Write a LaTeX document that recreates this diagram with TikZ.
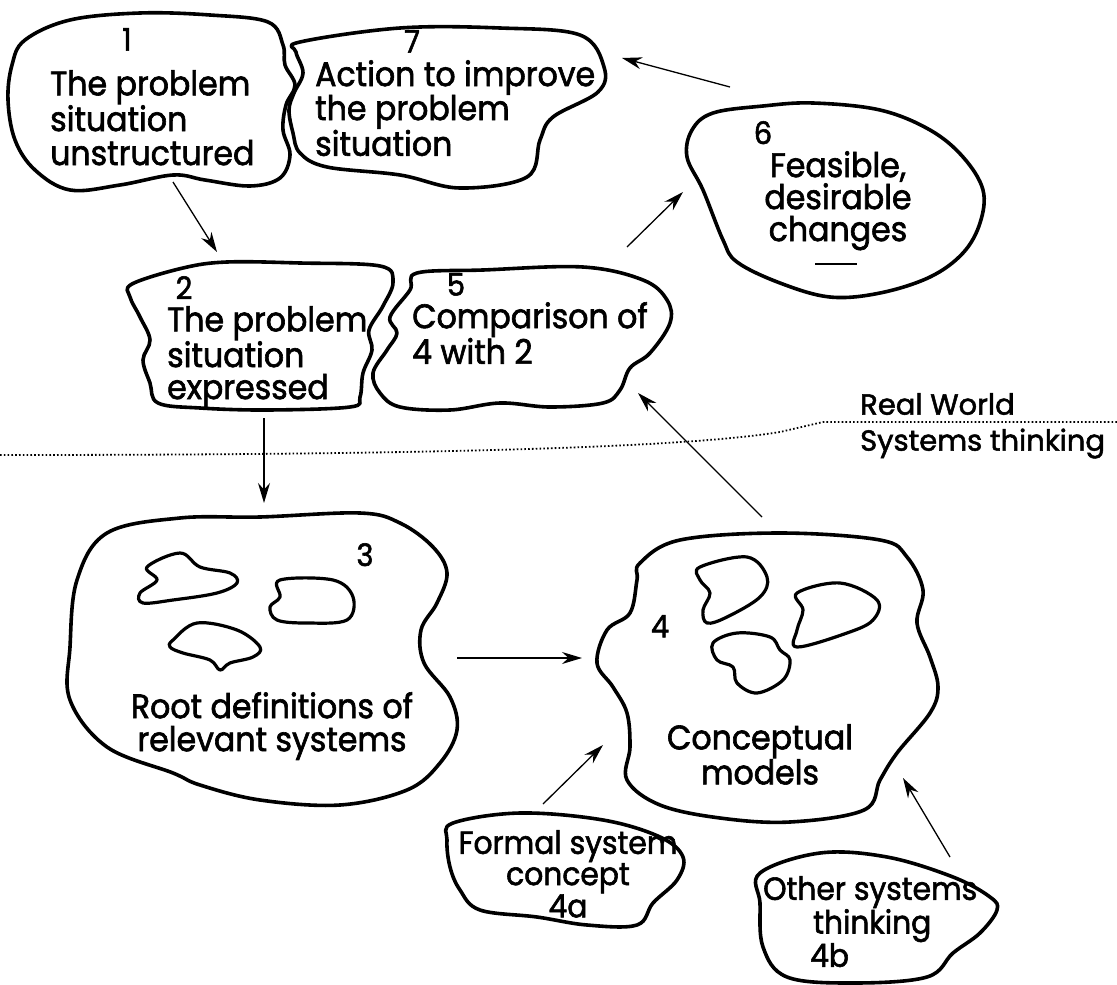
\documentclass[tikz,border=0pt]{standalone}
\usepackage{fontspec}
\setmainfont{Poppins}[FakeStretch=0.93, FakeBold=1.8]
\newfontfamily\rwfont{Poppins}[FakeBold=1.8]
\usetikzlibrary{arrows.meta}
\tikzset{
  blob/.style={draw=black, line width=3.6pt, line join=round},
  inner/.style={draw=black, line width=3.2pt, line join=round},
  arr/.style={draw=black, line width=1.3pt, -{Stealth[length=20pt,width=12pt]}},
  lbl/.style={inner sep=0pt, font=\fontsize{34}{34}\selectfont},
  num/.style={inner sep=0pt, font=\fontsize{31}{31}\selectfont},
}
\begin{document}
\begin{tikzpicture}[x=1pt,y=-1pt]
\useasboundingbox (0,0) rectangle (1117,985);
\fill[white] (0,0) rectangle (1117,985);
% blob 1
\draw[blob] plot[smooth cycle, tension=0.6] coordinates {(25,40) (70,20) (140,13) (210,15) (268,22) (283,45) (285,65) (295,85) (286,105) (283,130) (290,155) (280,178) (250,186) (205,180) (173,175) (120,185) (70,190) (35,170) (15,140) (8,100) (12,65)};
% blob 7
\draw[blob] plot[smooth cycle, tension=0.6] coordinates {(300,42) (400,28) (500,28) (580,35) (604,67) (598,92) (553,117) (540,140) (527,177) (460,188) (400,175) (327,167) (300,153) (293,133) (289,110) (294,93) (303,73) (296,52)};
% blob 2
\draw[blob] plot[smooth cycle, tension=0.6] coordinates {(132,284) (183,268) (227,262) (300,263) (380,266) (393,282) (383,306) (369,330) (372,350) (363,373) (360,397) (350,407) (267,410) (200,408) (158,403) (150,383) (143,360) (150,340) (140,317) (130,297)};
% blob 5
\draw[blob] plot[smooth cycle, tension=0.6] coordinates {(417,273) (483,270) (583,267) (643,280) (667,300) (670,323) (650,353) (630,368) (620,390) (603,403) (550,407) (500,403) (450,410) (400,407) (380,393) (373,373) (387,350) (397,333) (390,317) (410,290)};
% blob 6
\draw[blob] plot[smooth cycle, tension=0.6] coordinates {(713,113) (763,106) (813,103) (880,110) (930,130) (963,157) (983,190) (980,223) (963,253) (930,277) (880,293) (830,297) (780,283) (737,262) (723,240) (703,190) (687,157) (692,130)};
% blob 3
\draw[blob] plot[smooth cycle, tension=0.6] coordinates {(107,533) (180,518) (260,517) (360,513) (400,523) (433,547) (447,573) (437,603) (421,630) (424,663) (450,697) (457,730) (440,763) (407,790) (340,805) (260,800) (200,785) (173,773) (107,747) (70,700) (70,647) (77,580)};
% inner blobs 3
\draw[inner] plot[smooth cycle, tension=0.6] coordinates {(147,567) (180,553) (200,567) (230,573) (237,583) (217,593) (173,600) (143,603) (140,593) (157,580)};
\draw[inner] plot[smooth cycle, tension=0.6] coordinates {(280,580) (333,580) (353,597) (347,620) (307,623) (277,620) (270,607) (280,597)};
\draw[inner] plot[smooth cycle, tension=0.6] coordinates {(173,640) (197,623) (237,630) (260,647) (253,657) (230,663) (220,670) (210,660) (183,653) (170,647)};
% blob 4
\draw[blob] plot[smooth cycle, tension=0.6] coordinates {(640,563) (680,540) (780,533) (880,540) (907,557) (923,590) (917,623) (930,657) (938,687) (930,713) (897,753) (880,780) (864,810) (790,822) (720,818) (660,805) (627,780) (630,747) (627,713) (613,687) (597,663) (607,630) (630,613) (637,580)};
% inner blobs 4
\draw[inner] plot[smooth cycle, tension=0.6] coordinates {(700,567) (747,557) (767,577) (760,597) (727,617) (707,623) (703,610) (710,593) (700,580)};
\draw[inner] plot[smooth cycle, tension=0.6] coordinates {(797,593) (840,583) (877,600) (873,620) (847,633) (797,647) (797,630) (803,610)};
\draw[inner] plot[smooth cycle, tension=0.6] coordinates {(713,643) (737,633) (770,637) (780,650) (790,660) (783,680) (757,693) (737,683) (733,667) (717,660)};
% blob 4a
\draw[blob] plot[smooth cycle, tension=0.6] coordinates {(453,823) (520,813) (603,820) (660,837) (683,857) (677,880) (653,903) (637,925) (587,925) (537,917) (480,910) (460,890) (450,867) (447,840)};
% blob 4b
\draw[blob] plot[smooth cycle, tension=0.6] coordinates {(760,873) (820,853) (887,857) (953,877) (990,897) (997,910) (980,933) (953,953) (927,977) (853,983) (787,977) (763,947) (760,903)};
% texts
\node[num] (n1) at (127,28) [anchor=north] {1};
\node[lbl, align=left, anchor=north west] (t1) at (50,70) {The problem\\situation\\unstructured};
\node[num] (n7) at (412,30) [anchor=north] {7};
\node[lbl, align=left, anchor=north west, font=\fontsize{34}{34}\selectfont] (t7) at (315,60) {Action to improve\\the problem\\situation};
\node[num] (n2) at (184,276) [anchor=north] {2};
\node[lbl, align=left, anchor=north west, font=\fontsize{34}{32}\selectfont] (t2) at (167,306) {The problem\\situation\\expressed};
\node[num] (n5) at (456,273) [anchor=north] {5};
\node[lbl, align=left, anchor=north west, font=\fontsize{34}{33}\selectfont] (t5) at (412,302) {Comparison of\\4 with 2};
\node[num] (n6) at (763,121) [anchor=north] {6};
\node[lbl, align=center, anchor=north, font=\fontsize{34}{32}\selectfont] (t6) at (838,151) {Feasible,\\desirable\\changes};
\draw[line width=2.4pt] (815,264) -- (857,264);
\node[num] (n3) at (365,543) [anchor=north] {3};
\node[lbl, align=center, anchor=north, font=\fontsize{34}{33}\selectfont] (t3) at (272,692) {Root definitions of\\relevant systems};
\node[num] (n4) at (660,615) [anchor=north] {4};
\node[lbl, align=center, anchor=north, font=\fontsize{34}{32}\selectfont] (t4) at (760,724) {Conceptual\\models};
\node[lbl, align=center, anchor=north, font=\fontsize{32}{29}\selectfont] (t4a) at (568,830) {Formal system\\concept\\4a};
\node[lbl, align=left, anchor=north west, font=\fontsize{32}{30}\selectfont] (t4b) at (763,876) {Other systems\\\hspace*{50pt}thinking\\\hspace*{47pt}4b};
\node[inner sep=0pt, align=left, anchor=north west, font=\rwfont\fontsize{29}{36}\selectfont] (rw) at (860,393) {Real World\\Systems thinking};
% divider
\draw[line width=1.8pt, dash pattern=on 1.6pt off 2.2pt] (0,455) .. controls (500,455) and (700,445) .. (780,432) -- (823,422) -- (1117,422);
% arrows
\coordinate (a12s) at (173,182); \coordinate (a12e) at (217,252);
\coordinate (a23s) at (264,418); \coordinate (a23e) at (264,503);
\coordinate (a34s) at (457,658); \coordinate (a34e) at (582,658);
\coordinate (a45s) at (762,517); \coordinate (a45e) at (638,393);
\coordinate (a56s) at (627,247); \coordinate (a56e) at (683,192);
\coordinate (a67s) at (730,87);  \coordinate (a67e) at (622,58);
\coordinate (a4as) at (543,804); \coordinate (a4ae) at (603,745);
\coordinate (a4bs) at (950,857); \coordinate (a4be) at (903,778);
\draw[arr] (a12s) -- (a12e);
\draw[arr] (a23s) -- (a23e);
\draw[arr] (a34s) -- (a34e);
\draw[arr] (a45s) -- (a45e);
\draw[arr] (a56s) -- (a56e);
\draw[arr] (a67s) -- (a67e);
\draw[arr] (a4as) -- (a4ae);
\draw[arr] (a4bs) -- (a4be);
\end{tikzpicture}
\end{document}
